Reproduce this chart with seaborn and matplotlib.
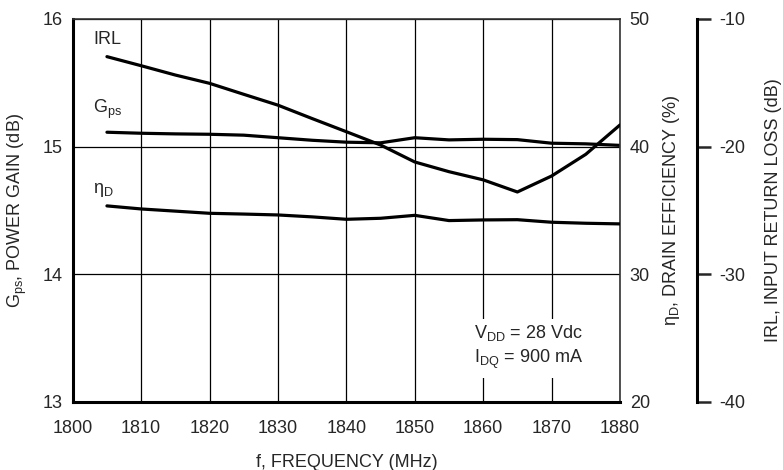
import matplotlib
matplotlib.use("Agg")
import matplotlib.pyplot as plt
import seaborn as sns
import pandas as pd

# valori
freq = [1805, 1810, 1815, 1820, 1825, 1830, 1835, 1840, 1845, 1850, 1855, 1860, 1865, 1870, 1875, 1880]
gps = [15.113, 15.105, 15.10, 15.097, 15.09, 15.07, 15.05, 15.035, 15.03, 15.07, 15.053, 15.058, 15.055, 15.027, 15.022, 15.01]
eta = [35.36, 35.12, 34.95, 34.78, 34.72, 34.65, 34.5, 34.31, 34.39, 34.62, 34.21, 34.26, 34.28, 34.08, 34.0, 33.95]
irl = [-12.95, -13.66, -14.39, -15.04, -15.9, -16.75, -17.8, -18.83, -19.87, -21.2, -21.96, -22.6, -23.55, -22.3, -20.6, -18.3]

x_ticks = [1800, 1810, 1820, 1830, 1840, 1850, 1860, 1870, 1880]
gain_ticks = [13, 14, 15, 16]
eff_ticks = [20, 30, 40, 50]
irl_ticks = [-40, -30, -20, -10]

df = pd.DataFrame({"f": freq, "gps": gps, "eta": eta, "irl": irl})

sns.set_style("white")
fam = ["Liberation Sans Narrow", "Liberation Sans", "DejaVu Sans"]
plt.rcParams["font.family"] = fam
plt.rcParams["mathtext.fontset"] = "custom"
plt.rcParams["mathtext.rm"] = "Liberation Sans"
plt.rcParams["mathtext.it"] = "Liberation Sans"
plt.rcParams["font.size"] = 13

fig = plt.figure(figsize=(7.83, 4.70), dpi=100)
ax = fig.add_axes([0.0929, 0.1447, 0.6989, 0.8149])

lw = 2.3
sns.lineplot(data=df, x="f", y="gps", ax=ax, color="black", linewidth=lw)
ax.set_xlim(1800, 1880)
ax.set_ylim(13, 16)
ax.set_xticks(x_ticks)
ax.set_yticks(gain_ticks)
ax.grid(True, color="black", linewidth=0.9)
ax.tick_params(length=0, labelsize=13, pad=7)
ax.tick_params(axis="x", pad=13)
ax.set_xlabel("f, FREQUENCY (MHz)", fontsize=13, labelpad=12)
ax.set_ylabel(r"G$_{\rm ps}$, POWER GAIN (dB)", fontsize=13, labelpad=10)
for s in ["left", "bottom"]:
    ax.spines[s].set_linewidth(2.2)
    ax.spines[s].set_color("black")
for s in ["top", "right"]:
    ax.spines[s].set_linewidth(1.2)
    ax.spines[s].set_color("#333333")

# axa dreapta: randament
ax2 = ax.twinx()
sns.lineplot(data=df, x="f", y="eta", ax=ax2, color="black", linewidth=lw)
ax2.set_ylim(20, 50)
ax2.set_yticks(eff_ticks)
ax2.tick_params(length=0, labelsize=13, pad=7)
ax2.set_ylabel(r"η$_{\rm D}$, DRAIN EFFICIENCY (%)", fontsize=13, labelpad=8)
for s in ax2.spines.values():
    s.set_visible(False)

# a treia axa: IRL
ax3 = ax.twinx()
sns.lineplot(data=df, x="f", y="irl", ax=ax3, color="black", linewidth=lw)
ax3.set_ylim(-40, -10)
ax3.set_yticks(irl_ticks)
ax3.set_yticklabels(["-40", "-30", "-20", "-10"])
for s in ["top", "left", "bottom"]:
    ax3.spines[s].set_visible(False)
ax3.spines["right"].set_position(("axes", 1.1407))
ax3.spines["right"].set_linewidth(2.2)
ax3.spines["right"].set_color("black")
ax3.tick_params(axis="y", direction="out", length=10, width=1.8, labelsize=13, pad=6)
ax3.set_ylabel("IRL, INPUT RETURN LOSS (dB)", fontsize=13, labelpad=14)
ax3.set_xlim(1800, 1880)

# etichete curbe
ax.text(1803, 15.836, "IRL", fontsize=13, va="center")
ax.text(1803, 15.29, r"G$_{\rm ps}$", fontsize=13, va="center")
ax.text(1803, 14.66, r"η$_{\rm D}$", fontsize=13, va="center")
ax.text(1866.6, 13.43, "V$_{\\rm DD}$ = 28 Vdc\nI$_{\\rm DQ}$ = 900 mA", fontsize=13,
        ha="center", va="center", multialignment="left", linespacing=1.3,
        bbox=dict(facecolor="white", edgecolor="none", pad=5), zorder=5)

fig.savefig("out.png", dpi=100)
